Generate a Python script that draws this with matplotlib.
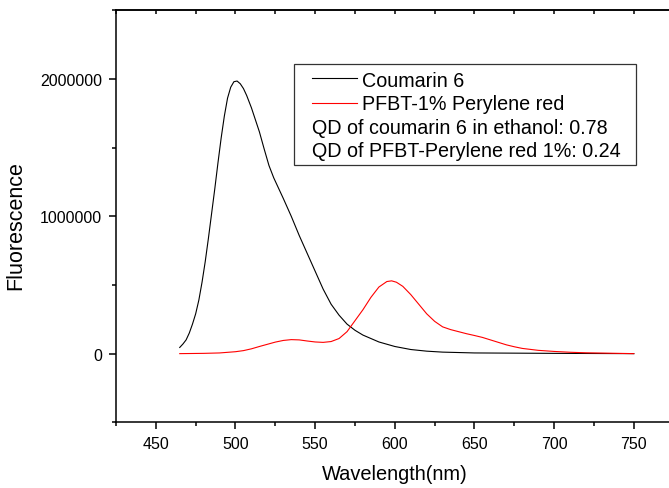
import matplotlib
matplotlib.use("Agg")
import matplotlib.pyplot as plt
from matplotlib.ticker import MultipleLocator, FuncFormatter
from matplotlib.patches import Rectangle
from matplotlib.lines import Line2D

plt.rcParams['font.family'] = ['Liberation Sans', 'DejaVu Sans']

# ---- data ----
coumarin_nm = [465, 467, 469, 471, 473, 475, 477, 479, 481, 483, 485, 487, 489, 491,
               493, 495, 497, 499, 501, 503, 505, 507, 510, 515, 518, 521, 524, 527,
               530, 535, 540, 545, 550, 555, 560, 565, 570, 575, 580, 590, 600, 610,
               620, 630, 650, 700, 750]
coumarin_val = [45000, 70000, 100000, 150000, 215000, 290000, 390000, 520000, 670000,
                840000, 1020000, 1200000, 1390000, 1570000, 1730000, 1860000, 1940000,
                1980000, 1985000, 1965000, 1930000, 1880000, 1790000, 1615000, 1490000,
                1370000, 1280000, 1205000, 1130000, 1000000, 860000, 730000, 600000,
                470000, 360000, 280000, 215000, 170000, 135000, 85000, 52000, 30000,
                18000, 11000, 5000, 2000, 0]

pfbt_nm = [465, 480, 490, 500, 505, 510, 515, 520, 525, 530, 535, 540, 545, 550, 555,
           560, 565, 570, 575, 580, 585, 590, 595, 598, 601, 605, 610, 615, 620, 625,
           630, 635, 640, 645, 650, 655, 660, 665, 670, 675, 680, 690, 700, 710, 720,
           735, 750]
pfbt_val = [0, 2000, 5000, 14000, 22000, 35000, 52000, 68000, 84000, 96000, 102000,
            100000, 92000, 85000, 82000, 88000, 110000, 160000, 240000, 320000, 410000,
            485000, 525000, 530000, 520000, 490000, 430000, 360000, 290000, 235000,
            195000, 175000, 160000, 145000, 132000, 118000, 100000, 82000, 64000, 50000,
            38000, 24000, 16000, 10000, 6000, 3000, 0]

series_labels = ["Coumarin 6", "PFBT-1% Perylene red"]
extra_legend_text = ["QD of coumarin 6 in ethanol: 0.78",
                     "QD of PFBT-Perylene red 1%: 0.24"]
x_label = "Wavelength(nm)"
y_label = "Fluorescence"

# ---- figure ----
W, H = 669, 489
fig = plt.figure(figsize=(W / 100, H / 100), dpi=100)

def fx(px):
    return px / W

def fy(py):
    return 1 - py / H

ax_left, ax_top, ax_bottom = 116, 11.3, 423.3
ax_width_px = 350 * 1.5933
ax_height_px = ax_bottom - ax_top
ax = fig.add_axes([fx(ax_left), fy(ax_bottom), ax_width_px / W, ax_height_px / H])

ax.plot(coumarin_nm, coumarin_val, color='black', lw=0.8)
ax.plot(pfbt_nm, pfbt_val, color='red', lw=0.8)

ax.set_xlim(425, 775)
ax.set_ylim(-500000, 2500000)
ax.xaxis.set_major_locator(MultipleLocator(50))
ax.xaxis.set_minor_locator(MultipleLocator(25))
ax.yaxis.set_major_locator(MultipleLocator(1000000))
ax.yaxis.set_minor_locator(MultipleLocator(500000))
ax.xaxis.set_major_formatter(FuncFormatter(lambda v, p: f"{int(round(v))}"))
ax.yaxis.set_major_formatter(FuncFormatter(lambda v, p: f"{int(round(v))}"))

for s in ax.spines.values():
    s.set_linewidth(1.1)

ax.tick_params(axis='both', which='major', direction='out', length=5, width=1.1,
               labelsize=11.5, pad=5)
ax.tick_params(axis='both', which='minor', direction='out', length=3, width=1.1)
ax.tick_params(axis='x', which='both', top=False)

ax.set_xlabel(x_label, fontsize=14.4, labelpad=9.5)
ax.set_ylabel(y_label, fontsize=15.5)
ax.yaxis.set_label_coords((26 - ax_left) / ax_width_px, (ax_bottom - 226) / ax_height_px)

# top ticks pointing inward
sec = ax.secondary_xaxis('top')
sec.xaxis.set_major_locator(MultipleLocator(50))
sec.xaxis.set_minor_locator(MultipleLocator(25))
sec.tick_params(which='both', direction='in', length=3, width=1.1, labeltop=False)
sec.spines['top'].set_linewidth(1.1)

# ---- legend box (drawn manually) ----
box = Rectangle((fx(294), fy(166)), fx(636) - fx(294), fy(65) - fy(166),
                transform=fig.transFigure, facecolor='white', edgecolor='#333333',
                linewidth=0.9, zorder=5)
fig.add_artist(box)
line_colors = ['black', 'red']
line_ys = [79.3, 104]
for c, ly in zip(line_colors, line_ys):
    fig.add_artist(Line2D([fx(312), fx(357)], [fy(ly), fy(ly)], color=c, lw=0.8,
                          transform=fig.transFigure, zorder=6))
baselines = [87, 110.5, 134, 157]
for lab, by in zip(series_labels, baselines[:2]):
    fig.text(fx(362.5), fy(by), lab, fontsize=14.2, va='baseline', ha='left', zorder=6)
for lab, by in zip(extra_legend_text, baselines[2:]):
    fig.text(fx(311.5), fy(by), lab, fontsize=14.2, va='baseline', ha='left', zorder=6)

fig.savefig("out.png", dpi=100)
